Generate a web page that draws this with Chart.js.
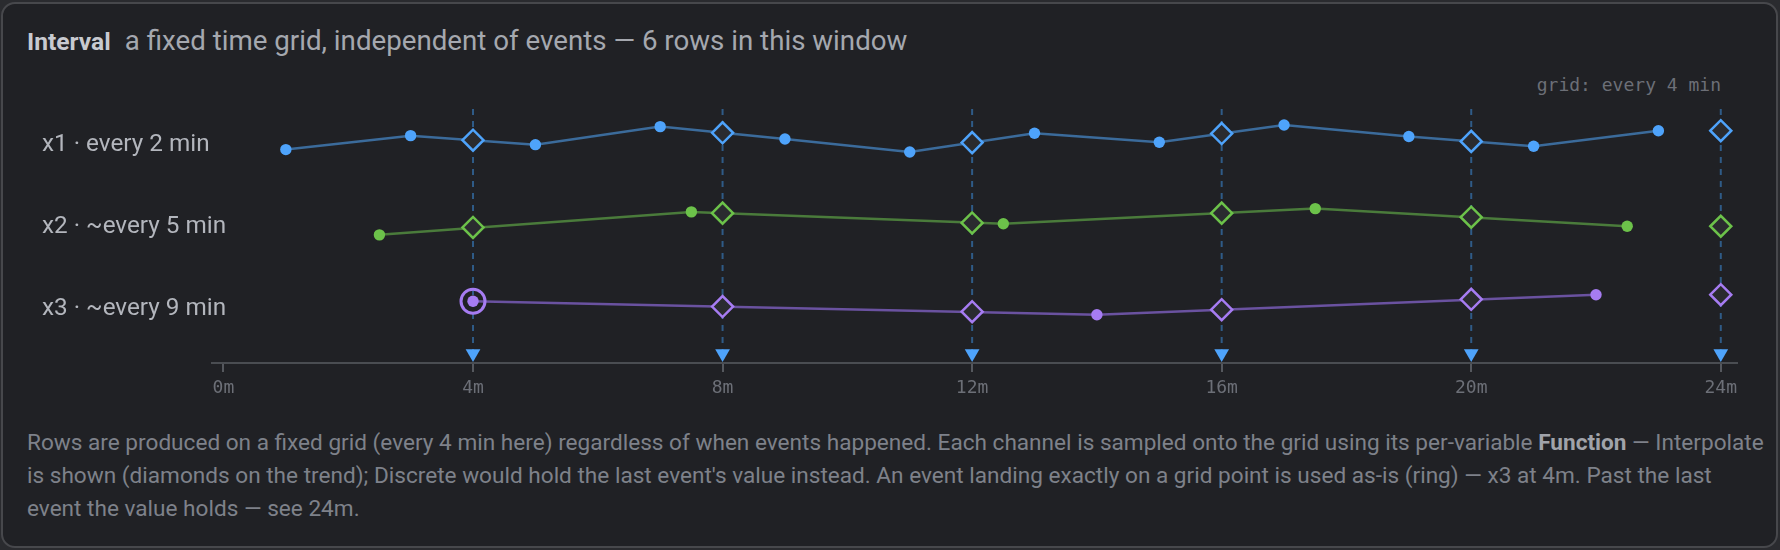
<!DOCTYPE html>
<html>
<head>
<meta charset="utf-8">
<script src="https://cdn.jsdelivr.net/npm/chart.js@4.4.1/dist/chart.umd.min.js"></script>
<style>
  html, body { margin: 0; padding: 0; background: #2a2b2f; }
  body { width: 1780px; height: 550px; position: relative; overflow: hidden; font-family: Roboto, "Noto Sans", sans-serif; }
  #card { position: absolute; left: 1px; top: 2px; width: 1773px; height: 542px; background: #202125; border: 2px solid #47484c; border-radius: 14px; }
  #title { position: absolute; left: 27px; top: 21px; height: 40px; display: flex; align-items: baseline; white-space: nowrap; }
  #title b { color: #c8cad0; font-weight: 700; font-size: 24.6px; line-height: 40px; }
  #title span { color: #a5a8af; margin-left: 14px; font-size: 27.7px; line-height: 40px; }
  #gridnote { position: absolute; right: 59px; top: 74px; font-family: "DejaVu Sans Mono", monospace; font-size: 18px; line-height: 22px; color: #6c6f77; white-space: nowrap; }
  #chartwrap { position: absolute; left: 0; top: 94px; width: 1780px; height: 314px; }
  #chartwrap canvas { display: block; }
  #foot { position: absolute; left: 27px; top: 426px; width: 1745px; font-size: 22.6px; line-height: 33px; color: #7e818a; white-space: nowrap; }
  #foot b { color: #a0a3aa; font-weight: 700; }
</style>
</head>
<body>
<div id="card"></div>
<div id="title"><b>Interval</b><span>a fixed time grid, independent of events — 6 rows in this window</span></div>
<div id="gridnote">grid: every 4 min</div>
<div id="chartwrap"><canvas id="c" width="1780" height="314"></canvas></div>
<div id="foot">Rows are produced on a fixed grid (every 4 min here) regardless of when events happened. Each channel is sampled onto the grid using its per-variable <b>Function</b> — Interpolate<br>is shown (diamonds on the trend); Discrete would hold the last event's value instead. An event landing exactly on a grid point is used as-is (ring) — x3 at 4m. Past the last<br>event the value holds — see 24m.</div>
<script>
// ---- data (minutes; channel values are offsets within each row band) ----
const rowLabels = ["x1 · every 2 min", "x2 · ~every 5 min", "x3 · ~every 9 min"];
const rowLevels = [3, 2, 1];

const gridTimes = [4, 8, 12, 16, 20, 24];
const axisTicks = [0, 4, 8, 12, 16, 20, 24];

const x1Times  = [1, 3, 5, 7, 9, 11, 13, 15, 17, 19, 21, 23];
const x1Values = [-0.08, 0.09, -0.02, 0.2, 0.05, -0.11, 0.12, 0.01, 0.22, 0.08, -0.04, 0.15];
const x1Grid   = [0.035, 0.125, 0.005, 0.115, 0.02, 0.15];

const x2Times  = [2.5, 7.5, 12.5, 17.5, 22.5];
const x2Values = [-0.12, 0.16, 0.015, 0.2, -0.015];
const x2Grid   = [-0.03, 0.145, 0.025, 0.145, 0.095, -0.015];

const x3Times  = [4, 14, 22];
const x3Values = [0.07, -0.095, 0.15];
const x3GridTimes = [8, 12, 16, 20, 24];
const x3Grid   = [0.005, -0.057, -0.033, 0.094, 0.15];
const exactHit = { time: 4, value: 0.07 };

// ---- styles ----
const C = {
  x1: { pt: '#4ea3fb', line: '#3b6b9b' },
  x2: { pt: '#6cc24a', line: '#4a7b3b' },
  x3: { pt: '#a67cf2', line: '#6a52a0' },
  grid: '#2f5b87',
  diamondFill: '#2a2b2f'
};
const Y_MIN = 0.317, Y_MAX = 3.415, TRI_Y = 0.433;

function pts(times, vals, level) { return times.map((t, i) => ({ x: t, y: level + vals[i] })); }

const datasets = [];
gridTimes.forEach(t => {
  datasets.push({ type: 'line', data: [{ x: t, y: Y_MAX }, { x: t, y: TRI_Y }], borderColor: C.grid, borderWidth: 2, borderDash: [6, 6], pointRadius: 0, order: 20, clip: false });
});
datasets.push({ type: 'line', showLine: false, data: gridTimes.map(t => ({ x: t, y: TRI_Y })), pointStyle: 'triangle', rotation: 180, pointRadius: 8.5, pointBackgroundColor: C.x1.pt, pointBorderWidth: 0, order: 4, clip: false });
const series = [
  { key: 'x1', times: x1Times, vals: x1Values, gridT: gridTimes, grid: x1Grid, level: rowLevels[0] },
  { key: 'x2', times: x2Times, vals: x2Values, gridT: gridTimes, grid: x2Grid, level: rowLevels[1] },
  { key: 'x3', times: x3Times, vals: x3Values, gridT: x3GridTimes, grid: x3Grid, level: rowLevels[2] }
];
series.forEach(s => {
  datasets.push({ type: 'line', data: pts(s.times, s.vals, s.level), borderColor: C[s.key].line, borderWidth: 2.5, pointRadius: 5.7, pointBackgroundColor: C[s.key].pt, pointBorderWidth: 0, tension: 0, order: 6, clip: false });
  datasets.push({ type: 'line', showLine: false, data: pts(s.gridT, s.grid, s.level), pointStyle: 'rectRot', pointRadius: 10.5, pointBorderWidth: 2.5, pointBorderColor: C[s.key].pt, pointBackgroundColor: C.diamondFill, order: 2, clip: false });
});
datasets.push({ type: 'line', showLine: false, data: [{ x: exactHit.time, y: rowLevels[2] + exactHit.value }], pointStyle: 'circle', pointRadius: 12, pointBorderWidth: 3, pointBorderColor: C.x3.pt, pointBackgroundColor: 'rgba(0,0,0,0)', order: 1, clip: false });

new Chart(document.getElementById('c'), {
  type: 'line',
  data: { datasets },
  options: {
    responsive: false,
    animation: false,
    devicePixelRatio: 1,
    events: [],
    layout: { padding: { left: 42, top: 0, right: 43, bottom: 0 } },
    plugins: { legend: { display: false }, tooltip: { enabled: false } },
    scales: {
      x: {
        type: 'linear', min: -0.19, max: 24.26,
        afterBuildTicks: s => { s.ticks = axisTicks.map(v => ({ value: v })); },
        afterFit: s => { s.height = 45; s.paddingLeft = 0; s.paddingRight = 0; },
        ticks: { callback: v => v + 'm', color: '#6c6f77', font: { family: 'DejaVu Sans Mono', size: 18 }, padding: 6, maxRotation: 0, autoSkip: false },
        grid: { drawOnChartArea: false, drawTicks: true, tickLength: 9, color: '#55585e', lineWidth: 2 },
        border: { display: true, color: '#4a4d52', width: 2 }
      },
      y: {
        type: 'linear', min: Y_MIN, max: Y_MAX,
        afterBuildTicks: s => { s.ticks = rowLevels.map(v => ({ value: v })); },
        afterFit: s => { s.width = 169.6; s._computeLabelArea = () => undefined; },
        ticks: { callback: v => rowLabels[rowLevels.indexOf(v)] || '', color: '#b3b6bd', font: { family: 'Roboto', size: 24.3 }, crossAlign: 'far', padding: 0, labelOffset: 2, autoSkip: false },
        grid: { display: false },
        border: { display: false }
      }
    }
  }
});
</script>
</body>
</html>
